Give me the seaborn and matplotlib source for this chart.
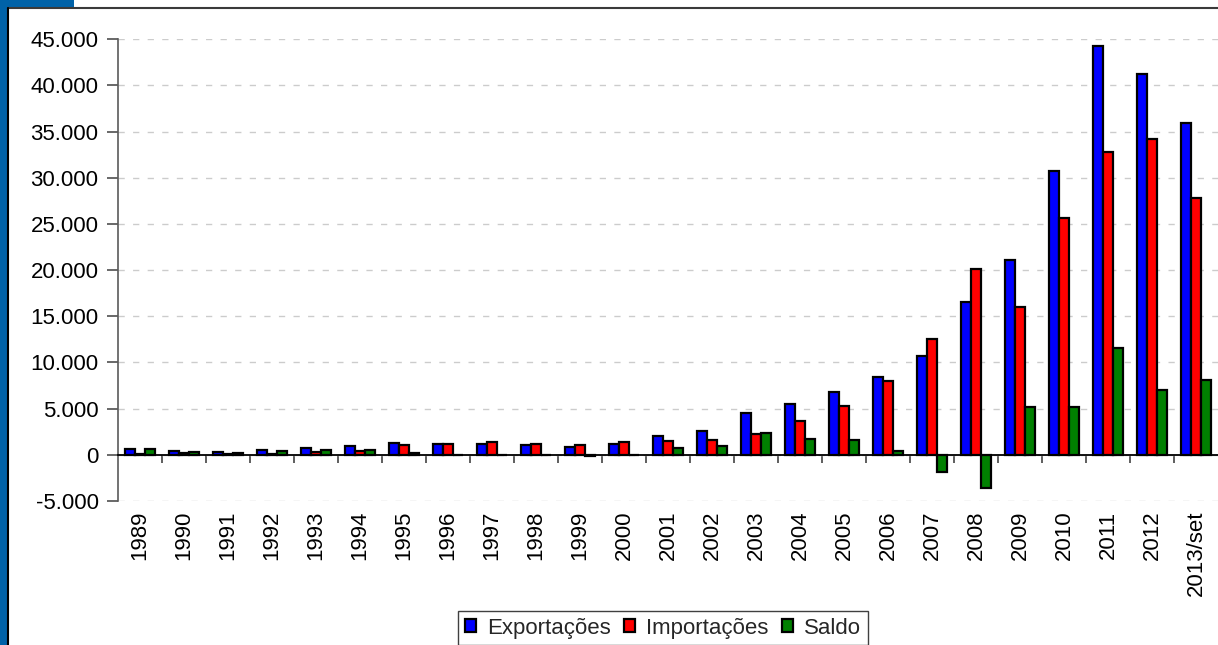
import numpy as np
import pandas as pd
import matplotlib
matplotlib.use("Agg")
import matplotlib.pyplot as plt
from matplotlib.patches import Rectangle
from matplotlib.lines import Line2D
from matplotlib.ticker import FuncFormatter, MultipleLocator
import seaborn as sns

# Annual trade figures (US$ millions)
anos = ["1989", "1990", "1991", "1992", "1993", "1994", "1995", "1996", "1997",
        "1998", "1999", "2000", "2001", "2002", "2003", "2004", "2005", "2006",
        "2007", "2008", "2009", "2010", "2011", "2012", "2013/set"]
exportacoes = [640, 450, 300, 470, 780, 930, 1250, 1140, 1160, 1020, 870, 1160,
               1990, 2620, 4490, 5500, 6800, 8460, 10730, 16520, 21060, 30740,
               44310, 41210, 35970]
importacoes = [50, 180, 140, 90, 310, 450, 1100, 1130, 1370, 1160, 1020, 1370,
               1520, 1610, 2220, 3690, 5320, 7990, 12540, 20090, 16010, 25650,
               32830, 34170, 27780]
saldo = [590, 270, 150, 380, 470, 480, 150, 10, -20, -30, -160, -20,
         690, 990, 2390, 1740, 1570, 410, -1810, -3570, 5180, 5180,
         11530, 6990, 8130]
series = ["Exportações", "Importações", "Saldo"]
cores = {"Exportações": "#0000FF", "Importações": "#FF0000", "Saldo": "#008000"}

df = pd.DataFrame({
    "Ano": anos * 3,
    "Série": [s for s in series for _ in anos],
    "Valor": exportacoes + importacoes + saldo,
})

sns.set_style("white")
plt.rcParams["font.family"] = ["Liberation Sans", "DejaVu Sans"]
FS = 16

W, H = 1218, 645
fig = plt.figure(figsize=(W / 100, H / 100), dpi=100)
ax = fig.add_axes([118 / W, 1 - 501 / H, 1 - 118 / W, (501 - 39.3) / H])

sns.barplot(data=df, x="Ano", y="Valor", hue="Série", hue_order=series,
            palette=cores, saturation=1, width=0.68, gap=0,
            edgecolor="black", linewidth=1.6, errorbar=None, ax=ax)

handles, labels = ax.get_legend_handles_labels()
ax.get_legend().remove()

ax.set_xlim(-0.5, len(anos) - 0.5)
ax.set_ylim(-5000, 45000)
ax.yaxis.set_major_locator(MultipleLocator(5000))
ax.yaxis.set_major_formatter(
    FuncFormatter(lambda v, _: f"{v:,.0f}".replace(",", ".")))
ax.set_xlabel("")
ax.set_ylabel("")

# dashed horizontal grid
ax.set_axisbelow(True)
ax.grid(axis="y", color="#cccccc", linestyle=(0, (4.5, 6)), linewidth=1)
ax.grid(axis="x", visible=False)

# spines: category axis runs along zero
for s in ["top", "right"]:
    ax.spines[s].set_visible(False)
ax.spines["bottom"].set_position(("data", 0))
ax.spines["bottom"].set_color("black")
ax.spines["bottom"].set_linewidth(1.3)
ax.spines["left"].set_color("#5a5a5a")
ax.spines["left"].set_linewidth(1.2)

ax.set_xticks(range(len(anos)))
ax.set_xticklabels(anos, rotation=90)
ax.set_xticks(np.arange(0.5, len(anos) - 1, 1), minor=True)
ax.tick_params(axis="x", which="major", length=0, pad=40, labelsize=FS,
               labelcolor="black")
ax.tick_params(axis="x", which="minor", length=6, width=1.1, color="#333333",
               direction="out", bottom=True)
ax.tick_params(axis="y", length=8, width=1.1, color="#404040", pad=6,
               labelsize=FS, labelcolor="black", left=True)

leg = fig.legend(handles, labels, loc="upper center",
                 bbox_to_anchor=(663 / W, 1 - 611 / H), ncol=3,
                 frameon=True, fancybox=False, framealpha=1,
                 edgecolor="#404040", fontsize=FS, handlelength=0.5,
                 handleheight=0.5, handletextpad=0.5, columnspacing=0.6,
                 borderpad=0.3, borderaxespad=0)
leg.get_frame().set_linewidth(1.0)

# page frame: blue band on the left and top-left, dark border lines
blue = "#0062A8"
fig.add_artist(Rectangle((0, 0), 7.5 / W, 1, transform=fig.transFigure,
                         facecolor=blue, edgecolor="none"))
fig.add_artist(Rectangle((0, 1 - 7.5 / H), 74 / W, 7.5 / H,
                         transform=fig.transFigure, facecolor=blue,
                         edgecolor="none"))
fig.add_artist(Line2D([8.3 / W, 1], [1 - 8.3 / H] * 2, transform=fig.transFigure,
                      color="#3a3a3a", linewidth=1.5))
fig.add_artist(Line2D([8.3 / W] * 2, [0, 1 - 7.5 / H], transform=fig.transFigure,
                      color="black", linewidth=1.5))

fig.savefig("out.png", dpi=100)
